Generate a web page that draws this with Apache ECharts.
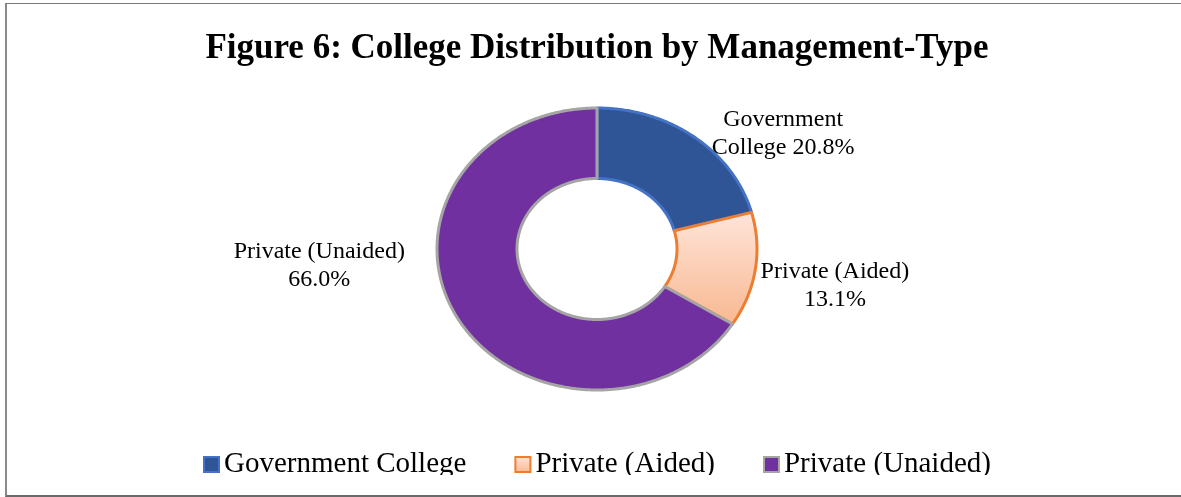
<!DOCTYPE html>
<html>
<head>
<meta charset="utf-8">
<script src="https://cdn.jsdelivr.net/npm/echarts@6/dist/echarts.min.js"></script>
<style>
html,body{margin:0;padding:0;background:#fff;width:1181px;height:497px;overflow:hidden;}
#chart{position:absolute;left:0;top:0;width:1181px;height:497px;}
#frame{position:absolute;left:5px;top:3px;width:1176px;height:491px;border-left:2px solid #8a8a8a;border-top:1px solid #7a7a7a;border-bottom:2px solid #6a6a6a;pointer-events:none;}
</style>
</head>
<body>
<div id="chart"></div>
<div id="frame"></div>
<script>
// ---- data ----
const titleText = 'Figure 6: College Distribution by Management-Type';
const categories = ['Government College', 'Private (Aided)', 'Private (Unaided)'];
const shares = [20.8, 13.1, 66.0];
const labelTexts = ['Government\nCollege 20.8%', 'Private (Aided)\n13.1%', 'Private (Unaided)\n66.0%'];

// ---- styles ----
const R_OUT = 1, R_IN = 0.5;
const fills = [
  '#2F5597',
  new echarts.graphic.LinearGradient(0, 0, 0, 1, [
    { offset: 0, color: '#FFE5DA' },
    { offset: 1, color: '#F8B890' }
  ]),
  '#7030A0'
];
const borders = ['#4472C4', '#ED7D31', '#A5A5A5'];
// label anchor: angle (deg clockwise from 12 o'clock) and radial distance in pie units
const labelAnchor = [
  { angle: 55, dist: 1.42 },
  { angle: 100, dist: 1.51 },
  { angle: 266, dist: 1.74 }
];
const serif = '"Liberation Serif", "DejaVu Serif", serif';

// cumulative ranges
const ranges = [];
let acc = 0;
shares.forEach(function (v) { ranges.push([acc, acc + v]); acc += v; });
const total = acc;

function makeRender(idx) {
  return function (params, api) {
    const s = api.value(0), e = api.value(1);
    const a0 = s / total * 2 * Math.PI, a1 = e / total * 2 * Math.PI;
    const n = Math.max(2, Math.ceil((a1 - a0) / (Math.PI / 360)));
    const pts = [];
    for (let k = 0; k <= n; k++) {
      const a = a0 + (a1 - a0) * k / n;
      pts.push(api.coord([R_OUT * Math.sin(a), R_OUT * Math.cos(a)]));
    }
    for (let k = n; k >= 0; k--) {
      const a = a0 + (a1 - a0) * k / n;
      pts.push(api.coord([R_IN * Math.sin(a), R_IN * Math.cos(a)]));
    }
    const la = labelAnchor[idx].angle * Math.PI / 180, ld = labelAnchor[idx].dist;
    const lp = api.coord([ld * Math.sin(la), ld * Math.cos(la)]);
    return {
      type: 'group',
      children: [
        {
          type: 'polygon',
          shape: { points: pts },
          style: { fill: fills[idx], stroke: borders[idx], lineWidth: 3, lineJoin: 'round' }
        },
        {
          type: 'text',
          x: lp[0], y: lp[1],
          style: {
            text: labelTexts[idx],
            fill: '#000',
            font: '24px ' + serif,
            align: 'center',
            verticalAlign: 'middle',
            lineHeight: 28
          }
        }
      ]
    };
  };
}

const chart = echarts.init(document.getElementById('chart'), null, { renderer: 'canvas' });
const option = {
  backgroundColor: '#fff',
  animation: false,
  title: {
    text: titleText,
    left: 592, top: 26,
    textAlign: 'center',
    textStyle: { fontFamily: serif, fontWeight: 'bold', fontSize: 35, color: '#000' }
  },
  grid: { left: 437, top: 108, width: 320, height: 282 },
  xAxis: { type: 'value', min: -1, max: 1, show: false },
  yAxis: { type: 'value', min: -1, max: 1, show: false },
  legend: {
    bottom: 13,
    left: 198,
    itemWidth: 15,
    itemHeight: 15,
    itemGap: 48,
    selectedMode: false,
    textStyle: { fontFamily: serif, fontSize: 29, color: '#000', padding: [0, 0, 0, 0] },
    data: categories.map(function (c, i) {
      return { name: c, icon: 'rect', itemStyle: { color: fills[i], borderColor: borders[i], borderWidth: 2 } };
    })
  },
  graphic: [{
    type: 'rect', z: 100, silent: true,
    shape: { x: 8, y: 475, width: 1173, height: 19 },
    style: { fill: '#fff' }
  }],
  series: categories.map(function (c, i) {
    return {
      type: 'custom',
      name: c,
      clip: false,
      coordinateSystem: 'cartesian2d',
      itemStyle: { color: fills[i], borderColor: borders[i] },
      renderItem: makeRender(i),
      data: [ranges[i]]
    };
  })
};
chart.setOption(option);
</script>
</body>
</html>
